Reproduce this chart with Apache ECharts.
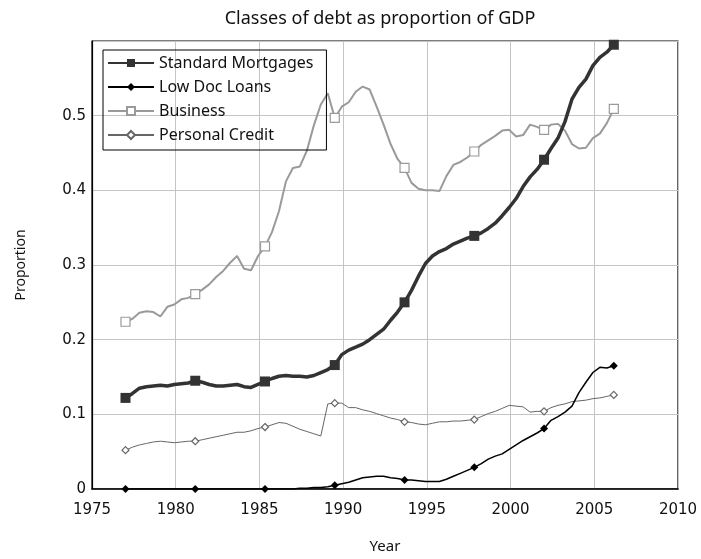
<!DOCTYPE html>
<html>
<head>
<meta charset="utf-8">
<script src="https://cdn.jsdelivr.net/npm/echarts@6/dist/echarts.min.js"></script>
<style>html,body{margin:0;padding:0;background:#fff}#c{width:701px;height:559px}</style>
</head>
<body>
<div id="c"></div>
<script>
// x positions: monthly data sampled every 5 months starting 1977.0
var startYear = 1977.0;
var stepYears = 5 / 12;
var markerEvery = 10;

var xTicks = ['1975','1980','1985','1990','1995','2000','2005','2010'];
var yTicks = ['0','0.1','0.2','0.3','0.4','0.5'];

var seriesNames = ['Standard Mortgages', 'Low Doc Loans', 'Business', 'Personal Credit'];

var standardMortgages = [
0.122,0.128,0.135,0.137,0.138,0.139,0.138,0.140,0.141,0.142,
0.145,0.143,0.140,0.138,0.138,0.139,0.140,0.137,0.136,0.140,
0.144,0.148,0.151,0.152,0.151,0.151,0.150,0.152,0.156,0.160,
0.166,0.180,0.186,0.190,0.194,0.200,0.207,0.214,0.226,0.237,
0.250,0.266,0.285,0.302,0.312,0.318,0.322,0.328,0.332,0.336,
0.339,0.343,0.349,0.356,0.366,0.377,0.389,0.405,0.418,0.428,
0.441,0.456,0.470,0.492,0.522,0.538,0.549,0.567,0.578,0.585,
0.595];

var lowDocLoans = [
0,0,0,0,0,0,0,0,0,0,
0,0,0,0,0,0,0,0,0,0,
0,0,0,0,0,0.001,0.001,0.002,0.002,0.003,
0.005,0.007,0.009,0.012,0.015,0.016,0.017,0.017,0.015,0.014,
0.012,0.012,0.011,0.010,0.010,0.010,0.013,0.017,0.021,0.025,
0.029,0.034,0.040,0.044,0.047,0.053,0.059,0.065,0.070,0.075,
0.081,0.092,0.097,0.103,0.111,0.129,0.143,0.156,0.163,0.162,
0.165];

var business = [
0.224,0.228,0.236,0.238,0.237,0.231,0.244,0.247,0.254,0.256,
0.261,0.267,0.274,0.284,0.292,0.303,0.312,0.295,0.293,0.312,
0.325,0.344,0.372,0.412,0.430,0.432,0.453,0.487,0.515,0.530,
0.497,0.512,0.518,0.532,0.539,0.535,0.512,0.488,0.462,0.442,
0.430,0.410,0.402,0.400,0.400,0.399,0.419,0.434,0.438,0.444,
0.452,0.461,0.467,0.473,0.480,0.481,0.472,0.474,0.488,0.485,
0.481,0.488,0.489,0.480,0.462,0.456,0.457,0.470,0.476,0.490,
0.509];

var personalCredit = [
0.052,0.056,0.059,0.061,0.063,0.064,0.063,0.062,0.063,0.064,
0.064,0.066,0.068,0.070,0.072,0.074,0.076,0.076,0.078,0.081,
0.083,0.086,0.089,0.088,0.084,0.080,0.077,0.074,0.071,0.114,
0.115,0.115,0.109,0.109,0.106,0.104,0.101,0.098,0.095,0.093,
0.090,0.089,0.087,0.086,0.088,0.090,0.090,0.091,0.091,0.092,
0.093,0.097,0.101,0.104,0.108,0.112,0.111,0.110,0.103,0.104,
0.104,0.109,0.112,0.114,0.117,0.118,0.119,0.121,0.122,0.124,
0.126];

function buildData(vals) {
  return vals.map(function (v, i) {
    var item = {value: [startYear + i * stepYears, v]};
    if (i % markerEvery !== 0) item.symbol = 'none';
    return item;
  });
}

var titleFont = 'Noto Sans, DejaVu Sans, sans-serif';
var tickFont = 'DejaVu Sans, Verdana, sans-serif';

var styles = [
  {color:'#333333', width:3.5, symbol:'rect', size:10, fill:'#333333', z:5, bw:0},
  {color:'#000000', width:1.5, symbol:'diamond', size:8, fill:'#000000', z:4, bw:0},
  {color:'#9a9a9a', width:2, symbol:'rect', size:9, fill:'#ffffff', z:3, bw:1.2},
  {color:'#666666', width:1, symbol:'diamond', size:7, fill:'#ffffff', z:2, bw:1.2}
];
var allVals = [standardMortgages, lowDocLoans, business, personalCredit];

var series = seriesNames.map(function (name, k) {
  var s = styles[k];
  return {
    name: name,
    type: 'line',
    data: buildData(allVals[k]),
    symbol: s.symbol,
    showAllSymbol: true,
    symbolSize: s.size,
    lineStyle: {color: s.color, width: s.width},
    itemStyle: {color: s.fill, borderColor: s.color, borderWidth: s.bw},
    z: s.z,
    animation: false,
    emphasis: {disabled: true}
  };
});

var chart = echarts.init(document.getElementById('c'), null, {renderer: 'canvas'});
chart.setOption({
  backgroundColor: '#ffffff',
  animation: false,
  title: {
    text: 'Classes of debt as proportion of GDP',
    left: 375, top: 5, textAlign: 'center',
    textStyle: {fontFamily: titleFont, fontSize: 18, fontWeight: 'normal', color: '#111'}
  },
  legend: {
    orient: 'vertical',
    left: 103, top: 50,
    data: seriesNames,
    itemWidth: 46, itemHeight: 10, itemGap: 8,
    padding: [5, 13, 7, 4],
    backgroundColor: 'transparent',
    borderColor: '#000000', borderWidth: 1,
    textStyle: {fontFamily: titleFont, fontSize: 16, color: '#111'},
    selectedMode: false
  },
  grid: {left: 92, right: 23, top: 41, bottom: 68, show: true, borderColor: '#000', borderWidth: 1.2, backgroundColor: 'transparent'},
  xAxis: {
    type: 'value', min: 1975, max: 2010, interval: 5,
    name: 'Year', nameLocation: 'middle', nameGap: 50,
    nameTextStyle: {fontFamily: titleFont, fontSize: 15, color: '#111'},
    axisLine: {show: true, lineStyle: {color: '#000', width: 1.5}},
    axisTick: {show: false},
    axisLabel: {fontFamily: tickFont, fontSize: 15, color: '#111', margin: 14,
      formatter: function (v) { var i = Math.round((v - 1975) / 5); return xTicks[i] || ''; }},
    splitLine: {show: true, lineStyle: {color: '#c4c4c4', width: 1}}
  },
  yAxis: {
    type: 'value', min: 0, max: 0.6, interval: 0.1,
    name: 'Proportion', nameLocation: 'middle', nameGap: 64, nameRotate: 90,
    nameTextStyle: {fontFamily: titleFont, fontSize: 14, color: '#111'},
    axisLine: {show: true, lineStyle: {color: '#000', width: 1.2}},
    axisTick: {show: false},
    axisLabel: {fontFamily: tickFont, fontSize: 15, color: '#111', margin: 6, showMaxLabel: false,
      formatter: function (v) { var i = Math.round(v * 10); return yTicks[i] || ''; }},
    splitLine: {show: true, lineStyle: {color: '#c4c4c4', width: 1}}
  },
  series: series
});
</script>
</body>
</html>
